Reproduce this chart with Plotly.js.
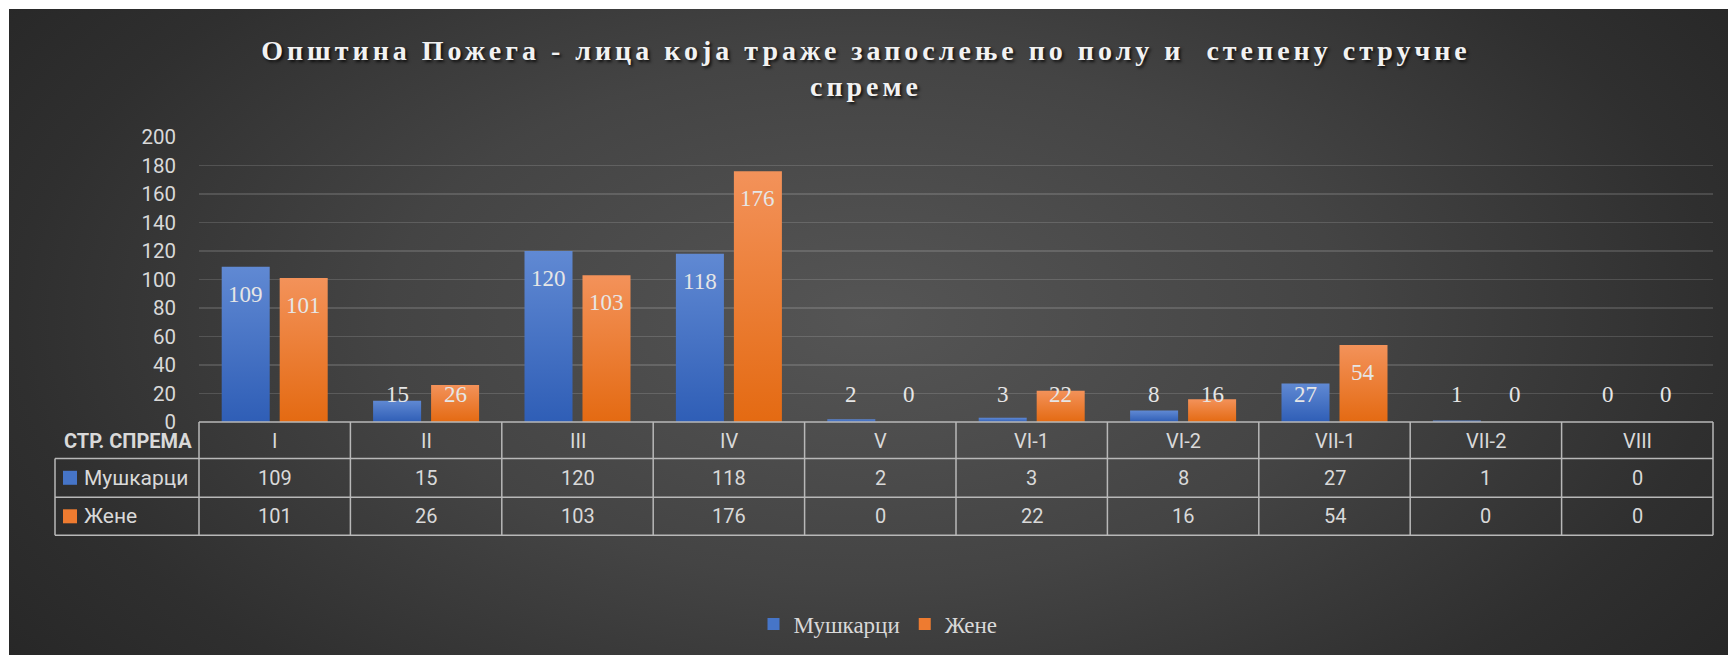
<!DOCTYPE html>
<html>
<head>
<meta charset="utf-8">
<script src="https://cdn.plot.ly/plotly-3.0.1.min.js"></script>
<style>
  html, body { margin: 0; padding: 0; background: #ffffff; width: 1728px; height: 655px; overflow: hidden; }
  #bg { position: absolute; left: 9px; top: 9px; width: 1719px; height: 646px;
        background: radial-gradient(ellipse 62% 90% at 50% 48%, #555555 0%, #444444 45%, #2f2f2f 80%, #272727 100%); }
  #chart { position: absolute; left: 0; top: 0; width: 1728px; height: 655px; }
  .gtitle { letter-spacing: 4px; text-shadow: 2px 2px 3px rgba(0,0,0,0.75); }
</style>
</head>
<body>
<div id="bg"></div>
<div id="chart"></div>
<script>
// ---- data ----
const categories = ['I', 'II', 'III', 'IV', 'V', 'VI-1', 'VI-2', 'VII-1', 'VII-2', 'VIII'];
const men = [109, 15, 120, 118, 2, 3, 8, 27, 1, 0];
const women = [101, 26, 103, 176, 0, 22, 16, 54, 0, 0];
const seriesNames = ['Мушкарци', 'Жене'];
const tableHeader = 'СТР. СПРЕМА';
const titleText = 'Општина Пожега - лица која траже запослење по полу и\u00a0 степену стручне<br>спреме';

// ---- style ----
const BLUE = '#4675c8', ORANGE = '#ee7b30';
const TXT = '#d9d9d9';
const LINE = '#b8b8b8';
const W = 1728, H = 655;
const M = {l: 199, r: 15, t: 137, b: 233};
const plotW = W - M.l - M.r, plotH = H - M.t - M.b;
const yMax = 200;
const bargap = 0.234, bargroupgap = 0.172;

const py = Y => (H - M.b - Y) / plotH;   // pixel -> paper y
const px = X => (X - M.l) / plotW;       // pixel -> paper x

const rowHeaderC = py(440.5), rowLine1 = py(458.5), row1C = py(477.8),
      rowLine2 = py(497.3), row2C = py(516.3), rowBottom = py(535.3);
const leftBorder = px(55);

const traces = [
  {type: 'bar', name: seriesNames[0], x: categories, y: men, marker: {color: BLUE}, hoverinfo: 'none'},
  {type: 'bar', name: seriesNames[1], x: categories, y: women, marker: {color: ORANGE}, hoverinfo: 'none'}
];

const shapes = [];
const annotations = [];
const lineStyle = {color: LINE, width: 1.5};

// horizontal table lines
shapes.push({type: 'line', xref: 'paper', yref: 'paper', x0: 0, x1: 1, y0: 0, y1: 0, line: lineStyle});
[rowLine1, rowLine2, rowBottom].forEach(y => {
  shapes.push({type: 'line', xref: 'paper', yref: 'paper', x0: leftBorder, x1: 1, y0: y, y1: y, line: lineStyle});
});
// vertical table lines
for (let k = 0; k <= categories.length; k++) {
  shapes.push({type: 'line', xref: 'paper', yref: 'paper', x0: k / categories.length, x1: k / categories.length,
               y0: 0, y1: rowBottom, line: lineStyle});
}
shapes.push({type: 'line', xref: 'paper', yref: 'paper', x0: leftBorder, x1: leftBorder, y0: rowLine1, y1: rowBottom, line: lineStyle});

// legend keys in table
[[row1C, BLUE], [row2C, ORANGE]].forEach(([y, c]) => {
  shapes.push({type: 'rect', xref: 'paper', yref: 'paper', xsizemode: 'pixel', ysizemode: 'pixel',
               xanchor: px(70), yanchor: y, x0: -7, x1: 7, y0: -7, y1: 7,
               fillcolor: c, line: {width: 0}});
});

const tFont = {family: 'Roboto, sans-serif', size: 20, color: TXT};
annotations.push({xref: 'paper', yref: 'paper', x: px(194), y: rowHeaderC, xanchor: 'right', yanchor: 'middle',
                  text: tableHeader, showarrow: false, font: {family: 'Roboto, sans-serif', size: 20, color: TXT, weight: 'bold'}});
annotations.push({xref: 'paper', yref: 'paper', x: px(82), y: row1C, xanchor: 'left', yanchor: 'middle',
                  text: seriesNames[0], showarrow: false, font: {...tFont, size: 21}});
annotations.push({xref: 'paper', yref: 'paper', x: px(82), y: row2C, xanchor: 'left', yanchor: 'middle',
                  text: seriesNames[1], showarrow: false, font: {...tFont, size: 21}});

categories.forEach((c, i) => {
  annotations.push({xref: 'x', yref: 'paper', x: c, y: rowHeaderC, yanchor: 'middle', text: c, showarrow: false, font: tFont});
  annotations.push({xref: 'x', yref: 'paper', x: c, y: row1C, yanchor: 'middle', text: String(men[i]), showarrow: false, font: tFont});
  annotations.push({xref: 'x', yref: 'paper', x: c, y: row2C, yanchor: 'middle', text: String(women[i]), showarrow: false, font: tFont});
});

// data labels
const colW = plotW / categories.length;
const off = colW * (1 - bargap) / 4;
const pxPerUnit = plotH / yMax;
const lblFont = {family: '"Liberation Serif", "Times New Roman", serif', size: 23, color: '#e6e6e6'};
[[men, -off], [women, off]].forEach(([vals, dx]) => {
  vals.forEach((v, i) => {
    const inside = v * pxPerUnit > 54;
    annotations.push({xref: 'x', yref: 'y', x: categories[i], y: inside ? v : 0,
                      xshift: dx, yshift: inside ? -27.5 : 28, yanchor: 'middle',
                      text: String(v), showarrow: false, font: lblFont});
  });
});

const layout = {
  width: W, height: H,
  margin: M,
  paper_bgcolor: 'rgba(0,0,0,0)',
  plot_bgcolor: 'rgba(0,0,0,0)',
  barmode: 'group',
  bargap: bargap,
  bargroupgap: bargroupgap,
  title: {
    text: titleText,
    font: {family: '"Liberation Serif", "Times New Roman", serif', size: 28, color: '#f2f2f2', weight: 'bold'},
    xref: 'container', x: 866 / W, xanchor: 'center',
    yref: 'container', y: 1 - 60 / H, yanchor: 'top'
  },
  xaxis: {type: 'category', showticklabels: false, showgrid: false, zeroline: false, showline: false, ticks: '', fixedrange: true},
  yaxis: {range: [0, yMax], dtick: 20, showgrid: true, gridcolor: 'rgba(255,255,255,0.14)', gridwidth: 1.5,
          zeroline: false, showline: false, ticks: '', ticklabelstandoff: 22,
          tickfont: {family: 'Roboto, sans-serif', size: 20.5, color: TXT}, fixedrange: true},
  showlegend: true,
  legend: {orientation: 'h', xref: 'container', yref: 'container', x: 878 / W, xanchor: 'center',
           y: 1 - 624 / H, yanchor: 'middle', bgcolor: 'rgba(0,0,0,0)',
           font: {family: '"Liberation Serif", "Times New Roman", serif', size: 23, color: TXT},
           itemclick: false, itemdoubleclick: false},
  shapes: shapes,
  annotations: annotations
};

Plotly.newPlot('chart', traces, layout, {displayModeBar: false, staticPlot: true}).then(gd => {
  // vertical gradient fill on the bars
  const svg = gd.querySelector('.main-svg');
  const ns = 'http://www.w3.org/2000/svg';
  const defs = document.createElementNS(ns, 'defs');
  const grads = [['gBlue', '#6089d3', '#2f5eb6'], ['gOrange', '#f3925a', '#e46a12']];
  grads.forEach(([id, c1, c2]) => {
    const g = document.createElementNS(ns, 'linearGradient');
    g.setAttribute('id', id); g.setAttribute('x1', '0'); g.setAttribute('y1', '0');
    g.setAttribute('x2', '0'); g.setAttribute('y2', '1');
    [[0, c1], [1, c2]].forEach(([o, c]) => {
      const s = document.createElementNS(ns, 'stop');
      s.setAttribute('offset', o); s.setAttribute('stop-color', c);
      g.appendChild(s);
    });
    defs.appendChild(g);
  });
  svg.insertBefore(defs, svg.firstChild);
  const tr = gd.querySelectorAll('.barlayer .trace');
  tr.forEach((t, i) => {
    t.querySelectorAll('.point path').forEach(p => { p.style.fill = 'url(#' + grads[i][0] + ')'; });
  });
});
</script>
</body>
</html>
